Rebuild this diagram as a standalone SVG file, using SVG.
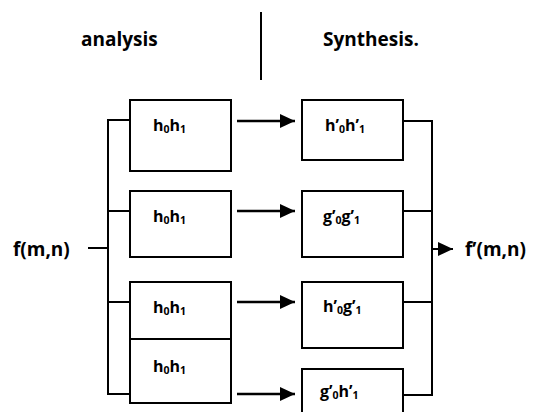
<svg xmlns="http://www.w3.org/2000/svg" width="533" height="412" viewBox="0 0 533 412">
<style>
text{font-family:"Open Sans","Liberation Sans",sans-serif;font-weight:700;fill:#000}
.t{font-size:19px}
.l{font-size:16px}
.s{font-size:10.5px}
.box{fill:#fff;stroke:#000;stroke-width:2}
.ln{fill:none;stroke:#000;stroke-width:2}
.ar{fill:none;stroke:#000;stroke-width:2.5}
</style>
<defs>
<marker id="ah" markerWidth="15" markerHeight="14" refX="15" refY="7" markerUnits="userSpaceOnUse" orient="auto">
<path d="M0,0 L15,7 L0,14 Z" fill="#000"/>
</marker>
</defs>
<rect width="533" height="412" fill="#fff"/>
<g id="headers">
<text class="t" x="81" y="46">analysis</text>
<text class="t" x="323" y="46">Synthesis.</text>
<line class="ln" x1="261" y1="12" x2="261" y2="80"/>
</g>
<g id="input"><text class="t" x="13" y="256">f(m,n)</text></g>
<g id="output"><text class="t" x="465" y="256">f’(m,n)</text></g>
<g id="a1"><rect class="box" x="130" y="100" width="101" height="71"/><text class="l" x="153" y="131">h<tspan class="s" dy="2">0</tspan><tspan dy="-2">h</tspan><tspan class="s" dy="2">1</tspan></text></g>
<g id="a2"><rect class="box" x="130" y="191" width="101" height="66"/><text class="l" x="153" y="222">h<tspan class="s" dy="2">0</tspan><tspan dy="-2">h</tspan><tspan class="s" dy="2">1</tspan></text></g>
<g id="a3"><rect class="box" x="130" y="282" width="101" height="57"/><text class="l" x="153" y="313">h<tspan class="s" dy="2">0</tspan><tspan dy="-2">h</tspan><tspan class="s" dy="2">1</tspan></text></g>
<g id="a4"><rect class="box" x="130" y="339" width="101" height="64"/><text class="l" x="153" y="372">h<tspan class="s" dy="2">0</tspan><tspan dy="-2">h</tspan><tspan class="s" dy="2">1</tspan></text></g>
<g id="s1"><rect class="box" x="302" y="100" width="101" height="60"/><text class="l" x="325" y="131">h’<tspan class="s" dy="2">0</tspan><tspan dy="-2">h’</tspan><tspan class="s" dy="2">1</tspan></text></g>
<g id="s2"><rect class="box" x="302" y="191" width="101" height="66"/><text class="l" x="323" y="222">g’<tspan class="s" dy="2">0</tspan><tspan dy="-2">g’</tspan><tspan class="s" dy="2">1</tspan></text></g>
<g id="s3"><rect class="box" x="302" y="282" width="101" height="66"/><text class="l" x="323" y="312">h’<tspan class="s" dy="2">0</tspan><tspan dy="-2">g’</tspan><tspan class="s" dy="2">1</tspan></text></g>
<g id="s4"><rect class="box" x="302" y="369" width="101" height="60"/><text class="l" x="320" y="397">g’<tspan class="s" dy="2">0</tspan><tspan dy="-2">h’</tspan><tspan class="s" dy="2">1</tspan></text></g>
<g id="connectors">
<line class="ln" x1="88" y1="248" x2="108" y2="248"/>
<path class="ln" d="M130,120 H108 V394 H130 M108,211 H130 M108,302 H130"/>
<line class="ar" x1="237" y1="121" x2="295" y2="121" marker-end="url(#ah)"/>
<line class="ar" x1="237" y1="211" x2="295" y2="211" marker-end="url(#ah)"/>
<line class="ar" x1="237" y1="302" x2="295" y2="302" marker-end="url(#ah)"/>
<line class="ar" x1="237" y1="394" x2="295" y2="394" marker-end="url(#ah)"/>
<path class="ln" d="M403,121 H432 V395 H403 M403,211 H432 M403,302 H432"/>
<line class="ln" x1="432" y1="249" x2="453" y2="249" marker-end="url(#ah)"/>
</g>
</svg>
